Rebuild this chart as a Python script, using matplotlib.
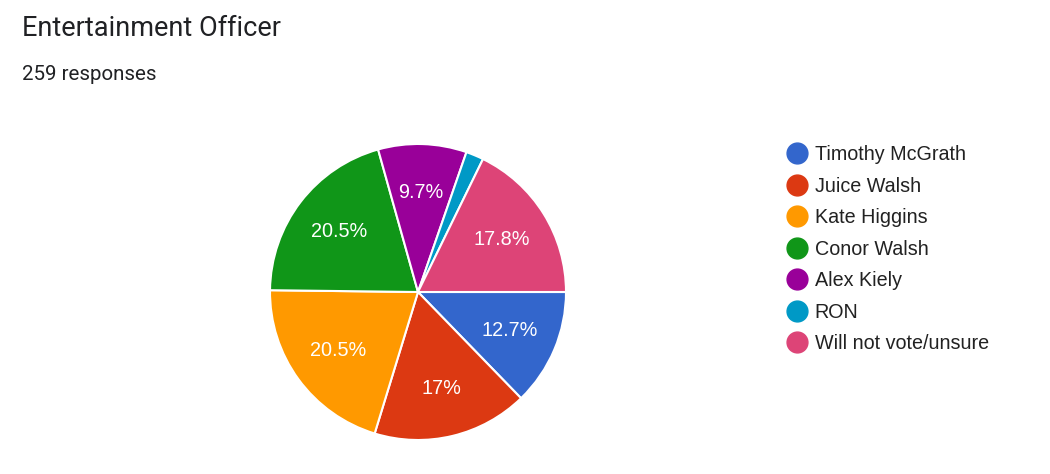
import matplotlib.pyplot as plt
from matplotlib.lines import Line2D

labels = ["Timothy McGrath", "Juice Walsh", "Kate Higgins", "Conor Walsh",
          "Alex Kiely", "RON", "Will not vote/unsure"]
counts = [33, 44, 53, 53, 25, 5, 46]
colors = ["#3366cc", "#dc3912", "#ff9900", "#109618", "#990099", "#0099c6", "#dd4477"]

fig = plt.figure(figsize=(10.5, 4.74), dpi=100)

fig.text(22/1050, 1 - 29/474, "Entertainment Officer", family="Roboto", fontsize=19.5,
         color="#202124", va="center", ha="left")
fig.text(22/1050, 1 - 74/474, "259 responses", family="Roboto", fontsize=14.8,
         color="#202124", va="center", ha="left")

ax = fig.add_axes([270/1050, 34/474, 296/1050, 296/474])


def fmt(p):
    if p < 5:
        return ""
    s = "%.1f" % p
    if s.endswith(".0"):
        s = s[:-2]
    return s + "%"


wedges, texts, autotexts = ax.pie(
    counts, colors=colors, startangle=0, counterclock=False,
    autopct=fmt, pctdistance=0.67,
    wedgeprops={"edgecolor": "white", "linewidth": 1.5},
    textprops={"color": "white", "fontsize": 14.3, "family": "Liberation Sans"})
ax.set_xlim(-1.0, 1.0)
ax.set_ylim(-1.0, 1.0)
ax.set_aspect("equal")

handles = [Line2D([0], [0], marker="o", linestyle="none", markersize=15,
                  markerfacecolor=c, markeredgecolor=c) for c in colors]
leg = fig.legend(handles, labels, loc="upper left",
                 bbox_to_anchor=(787/1050, 1 - 145/474), frameon=False,
                 prop={"family": "Liberation Sans", "size": 14.2},
                 labelspacing=0.635, handlelength=1.0, handletextpad=0.4,
                 borderpad=0, borderaxespad=0)
for t in leg.get_texts():
    t.set_color("#222222")

plt.savefig("out.png", dpi=100)
